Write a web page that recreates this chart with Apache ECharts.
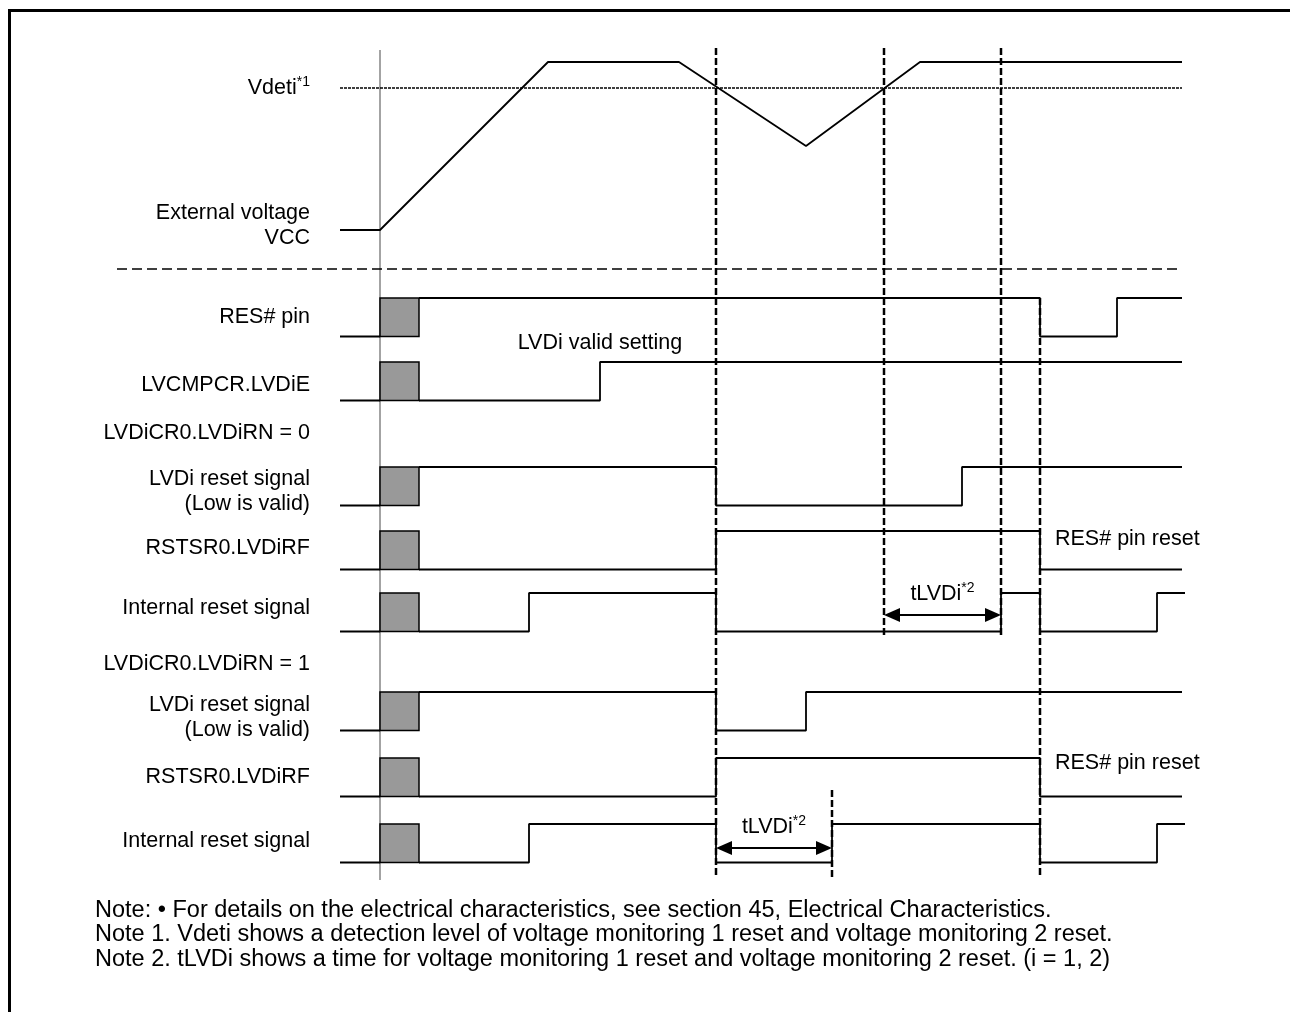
<!DOCTYPE html>
<html>
<head>
<meta charset="utf-8">
<script src="https://cdn.jsdelivr.net/npm/echarts@6/dist/echarts.min.js"></script>
<style>
html, body { margin: 0; padding: 0; background: #fff; }
#chart { width: 1290px; height: 1012px; }
</style>
</head>
<body>
<div id="chart"></div>
<script>
// time runs from power-on (0); levels 0 = low, 1 = high
var tPre = -40, tPowerOn = 0, tUnknownEnd = 39;
var vccWave = [[-40, 0], [0, 0], [168, 1], [299, 1], [426, 0.5], [540, 1], [802, 1]];
var vdetiLevel = 0.845;
var vdetiSpan = [-40, 802];

var resPin = [[39, 1], [660, 0], [737, 1], [802, 1]];
var lvdie = [[39, 0], [220, 1], [802, 1]];
var lvdiReset0 = [[39, 1], [336, 0], [582, 1], [802, 1]];
var rstsr0 = [[39, 0], [336, 1], [660, 0], [802, 0]];
var intReset0 = [[39, 0], [149, 1], [336, 0], [621, 1], [660, 0], [777, 1], [805, 1]];
var lvdiReset1 = [[39, 1], [336, 0], [426, 1], [802, 1]];
var rstsr1 = [[39, 0], [336, 1], [660, 0], [802, 0]];
var intReset1 = [[39, 0], [149, 1], [336, 0], [452, 1], [660, 0], [777, 1], [805, 1]];

var waves = [resPin, lvdie, lvdiReset0, rstsr0, intReset0, lvdiReset1, rstsr1, intReset1];
var waveLabels = [
    ['RES# pin'], ['LVCMPCR.LVDiE'], ['LVDi reset signal', '(Low is valid)'], ['RSTSR0.LVDiRF'],
    ['Internal reset signal'], ['LVDi reset signal', '(Low is valid)'], ['RSTSR0.LVDiRF'], ['Internal reset signal']
];
var groupLabels = ['LVDiCR0.LVDiRN = 0', 'LVDiCR0.LVDiRN = 1'];
var edgeTimes = [336, 504, 621, 660, 452];
var tLvdiSpans = [[504, 621], [336, 452]];
var noteLines = [
    'Note: \u2022 For details on the electrical characteristics, see section 45, Electrical Characteristics.',
    'Note 1. Vdeti shows a detection level of voltage monitoring 1 reset and voltage monitoring 2 reset.',
    'Note 2. tLVDi shows a time for voltage monitoring 1 reset and voltage monitoring 2 reset. (i = 1, 2)'
];

// layout (pixels)
var FONT = 'Liberation Sans, Arial, sans-serif';
var rowTops = [298, 362, 467, 531, 593, 692, 758, 824];
var rowH = 38.5;
var labelYs = [[317], [385], [479, 504], [548], [608], [705, 730], [777], [841]];
var groupLabelYs = [433, 664];
var edgeExtents = [[48, 878], [48, 637], [48, 637], [298, 878], [790, 878]];
var arrowYs = [615, 848];
var arrowTextYs = [594, 827];
var noteYs = [911, 935, 960];

var chart = echarts.init(document.getElementById('chart'));

var grids = [], xAxes = [], yAxes = [], series = [];
function addGrid(top, height, yMin, yMax, inverse) {
    var i = grids.length;
    grids.push({ left: 0, right: 0, top: top, height: height, outerBoundsMode: 'none' });
    xAxes.push({ type: 'value', gridIndex: i, min: -380, max: 910, show: false });
    yAxes.push({ type: 'value', gridIndex: i, min: yMin, max: yMax, inverse: !!inverse, show: false });
    return i;
}
function lineSeries(idx, data, extra) {
    var s = {
        type: 'line', xAxisIndex: idx, yAxisIndex: idx, data: data,
        symbol: 'none', clip: false, silent: true, animation: false,
        lineStyle: { color: '#000', width: 1.8 }
    };
    for (var k in extra) s[k] = extra[k];
    return s;
}

// overlay grid, pixel y
var ov = addGrid(0, 1012, 0, 1012, true);

// signal rows
waves.forEach(function(w, r) {
    var g = addGrid(rowTops[r], rowH, 0, 1);
    series.push(lineSeries(g, [[tPre, 0], [tPowerOn, 0]]));
    series.push(lineSeries(g, w, { step: 'end' }));
    series.push({
        type: 'custom', xAxisIndex: g, yAxisIndex: g, silent: true, animation: false, z: 3,
        data: [[tPowerOn, tUnknownEnd]],
        renderItem: function(params, api) {
            var p0 = api.coord([api.value(0), 1]);
            var p1 = api.coord([api.value(1), 0]);
            return {
                type: 'rect',
                shape: { x: p0[0], y: p0[1], width: p1[0] - p0[0], height: p1[1] - p0[1] },
                style: { fill: '#999999', stroke: '#000', lineWidth: 1.5 }
            };
        }
    });
});

// VCC
var vg = addGrid(62, 168, 0, 1);
series.push(lineSeries(vg, vccWave));
series.push(lineSeries(vg, [[vdetiSpan[0], vdetiLevel], [vdetiSpan[1], vdetiLevel]], {
    lineStyle: { color: '#000', width: 1.5, type: [3, 1] }
}));

// overlay: power-on line, separator, edges, arrows
series.push(lineSeries(ov, [[tPowerOn, 50], [tPowerOn, 880]], { z: 1, lineStyle: { color: '#666', width: 1.2 } }));
series.push(lineSeries(ov, [[-263, 269], [801, 269]], { lineStyle: { color: '#000', width: 1.5, type: [10, 5] } }));
edgeTimes.forEach(function(t, i) {
    series.push(lineSeries(ov, [[t, edgeExtents[i][0]], [t, edgeExtents[i][1]]], {
        z: 4, lineStyle: { color: '#000', width: 2.5, type: [7, 3] }
    }));
});
series.push({
    type: 'line', xAxisIndex: ov, yAxisIndex: ov, data: [], silent: true, animation: false,
    markLine: {
        silent: true, animation: false, symbol: ['triangle', 'triangle'], symbolSize: [14, 16],
        label: { show: false },
        lineStyle: { color: '#000', width: 2, type: 'solid' },
        data: tLvdiSpans.map(function(sp, i) {
            return [{ coord: [sp[0] + 8, arrowYs[i]] }, { coord: [sp[1] - 8, arrowYs[i]] }];
        })
    }
});

// text
var graphics = [
    { type: 'line', shape: { x1: 8, y1: 10.5, x2: 1290, y2: 10.5 }, style: { stroke: '#000', lineWidth: 3 } },
    { type: 'line', shape: { x1: 9.5, y1: 9, x2: 9.5, y2: 1012 }, style: { stroke: '#000', lineWidth: 3 } }
];
function txt(text, x, y, align, rich, size) {
    var st = { text: text, x: x, y: y, align: align || 'right', verticalAlign: 'middle', font: (size || 21.5) + 'px ' + FONT, fill: '#000' };
    if (rich) st.rich = rich;
    graphics.push({ type: 'text', style: st, silent: true });
}
var supRich = {
    n: { fontSize: 21.5, fontFamily: FONT },
    s: { fontSize: 14, fontFamily: FONT, padding: [0, 0, 12, 0] }
};
txt('{n|Vdeti}{s|*1}', 310, 88, 'right', supRich);
txt('External voltage', 310, 213);
txt('VCC', 310, 238);
waveLabels.forEach(function(ls, r) {
    ls.forEach(function(l, j) { txt(l, 310, labelYs[r][j]); });
});
groupLabels.forEach(function(l, i) { txt(l, 310, groupLabelYs[i]); });
txt('LVDi valid setting', 600, 343, 'center');
txt('RES# pin reset', 1055, 539, 'left');
txt('RES# pin reset', 1055, 763, 'left');
tLvdiSpans.forEach(function(sp, i) {
    txt('{n|tLVDi}{s|*2}', 380 + (sp[0] + sp[1]) / 2, arrowTextYs[i], 'center', supRich);
});
noteLines.forEach(function(l, i) { txt(l, 95, noteYs[i], 'left', null, 23.5); });

chart.setOption({
    backgroundColor: '#fff',
    animation: false,
    grid: grids,
    xAxis: xAxes,
    yAxis: yAxes,
    series: series,
    graphic: graphics
});
</script>
</body>
</html>
